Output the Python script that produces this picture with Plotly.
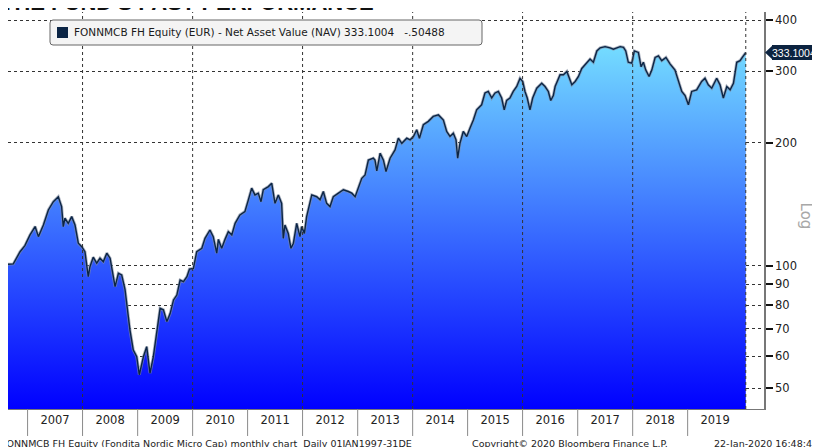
import math
import plotly.graph_objects as go

# ---- data ----
dates = [
    "2006-08-24", "2006-09-28", "2006-11-12", "2006-12-14", "2007-01-17", "2007-02-20",
    "2007-03-14", "2007-04-16", "2007-05-19", "2007-06-21", "2007-07-24", "2007-08-15",
    "2007-08-26", "2007-09-06", "2007-09-28", "2007-10-21", "2007-11-12", "2007-12-04",
    "2007-12-27", "2008-01-17", "2008-02-08", "2008-02-19", "2008-03-12", "2008-04-04",
    "2008-04-26", "2008-05-18", "2008-06-10", "2008-07-02", "2008-08-04", "2008-08-26",
    "2008-09-17", "2008-10-09", "2008-10-31", "2008-11-11", "2008-12-03", "2008-12-26",
    "2009-01-12", "2009-02-08", "2009-03-02", "2009-03-24", "2009-04-15", "2009-05-08",
    "2009-05-30", "2009-06-21", "2009-07-14", "2009-08-05", "2009-08-27", "2009-09-18",
    "2009-10-10", "2009-11-01", "2009-11-24", "2009-12-11", "2010-01-06", "2010-01-28",
    "2010-03-03", "2010-03-24", "2010-04-26", "2010-05-18", "2010-06-10", "2010-06-21",
    "2010-07-13", "2010-08-04", "2010-08-26", "2010-09-18", "2010-10-10", "2010-11-11",
    "2010-12-14", "2011-01-06", "2011-01-28", "2011-02-19", "2011-03-13", "2011-03-31",
    "2011-04-15", "2011-05-19", "2011-06-10", "2011-07-02", "2011-07-24", "2011-08-15",
    "2011-08-26", "2011-09-06", "2011-09-28", "2011-10-16", "2011-11-01", "2011-11-23",
    "2011-12-15", "2011-12-26", "2012-01-13", "2012-01-28", "2012-03-02", "2012-04-04",
    "2012-04-26", "2012-05-18", "2012-06-09", "2012-07-01", "2012-07-23", "2012-08-26",
    "2012-09-28", "2012-10-31", "2012-11-23", "2012-12-15", "2013-01-06", "2013-01-28",
    "2013-02-19", "2013-03-13", "2013-04-15", "2013-04-26", "2013-05-08", "2013-05-30",
    "2013-06-21", "2013-07-08", "2013-08-04", "2013-09-06", "2013-09-28", "2013-10-21",
    "2013-11-23", "2013-12-15", "2014-01-06", "2014-01-28", "2014-02-15", "2014-03-13",
    "2014-04-15", "2014-05-18", "2014-06-21", "2014-07-24", "2014-08-15", "2014-09-06",
    "2014-09-28", "2014-10-16", "2014-10-27", "2014-11-11", "2014-12-03", "2014-12-26",
    "2015-01-17", "2015-02-08", "2015-03-02", "2015-04-04", "2015-04-26", "2015-05-18",
    "2015-06-10", "2015-07-02", "2015-07-24", "2015-08-15", "2015-09-01", "2015-09-17",
    "2015-10-09", "2015-10-31", "2015-11-23", "2015-12-15", "2016-01-02", "2016-01-17",
    "2016-02-01", "2016-02-19", "2016-03-08", "2016-04-04", "2016-05-07", "2016-05-29",
    "2016-06-20", "2016-07-06", "2016-07-23", "2016-08-04", "2016-09-06", "2016-09-28",
    "2016-10-21", "2016-11-01", "2016-11-23", "2016-12-15", "2017-01-06", "2017-01-28",
    "2017-03-02", "2017-03-24", "2017-04-15", "2017-05-08", "2017-05-30", "2017-07-02",
    "2017-08-04", "2017-08-26", "2017-09-18", "2017-10-10", "2017-11-01", "2017-11-16",
    "2017-12-03", "2017-12-26", "2018-01-12", "2018-02-08", "2018-02-26", "2018-03-13",
    "2018-03-29", "2018-04-20", "2018-05-08", "2018-05-30", "2018-06-21", "2018-07-13",
    "2018-08-10", "2018-09-06", "2018-10-09", "2018-10-31", "2018-11-23", "2018-12-15",
    "2019-01-06", "2019-01-28", "2019-03-02", "2019-04-04", "2019-04-26", "2019-05-18",
    "2019-06-10", "2019-07-13", "2019-08-04", "2019-08-26", "2019-09-18", "2019-10-10",
    "2019-11-01", "2019-11-23", "2019-12-15", "2019-12-30", "2020-01-22",
]
nav = [
    100.8, 101.0, 108.2, 112.0, 119.0, 124.7,
    117.8, 125.8, 137.0, 143.5, 147.6, 139.6,
    124.7, 130.7, 127.0, 131.9, 125.8, 113.5,
    111.3, 108.2, 94.0, 99.4, 104.9, 101.4,
    104.3, 102.3, 107.3, 104.3, 88.8, 95.8,
    94.9, 87.5, 75.0, 69.5, 62.1, 59.8,
    54.0, 59.8, 63.3, 54.5, 59.8, 68.3,
    78.6, 77.9, 72.9, 76.4, 82.4, 84.7,
    92.2, 91.4, 94.0, 98.1, 98.5, 108.2,
    110.3, 116.7, 122.3, 117.8, 107.3, 116.0,
    110.3, 116.0, 121.2, 119.0, 127.0, 133.2,
    135.7, 145.0, 154.9, 149.1, 150.6, 143.5,
    153.5, 156.3, 159.3, 142.2, 149.1, 142.2,
    116.7, 125.8, 120.0, 110.3, 113.5, 127.0,
    117.8, 124.7, 120.0, 131.9, 149.1, 147.6,
    145.0, 152.0, 142.2, 139.6, 147.6, 150.6,
    153.5, 152.0, 150.6, 147.6, 154.9, 163.8,
    166.9, 181.5, 183.5, 181.5, 170.7, 188.7,
    181.5, 170.2, 183.5, 192.3, 205.4, 199.6,
    205.4, 203.5, 207.4, 215.4, 205.4, 221.6,
    225.9, 232.3, 234.3, 227.6, 213.4, 207.4,
    211.3, 203.5, 183.5, 199.6, 213.4, 207.4,
    217.6, 227.6, 241.1, 248.1, 265.2, 267.5,
    257.8, 265.2, 267.5, 257.8, 241.1, 254.2,
    257.8, 267.5, 275.1, 288.2, 283.0, 267.5,
    257.8, 241.1, 257.8, 272.5, 280.2, 275.1,
    267.5, 254.2, 261.4, 275.1, 293.9, 293.9,
    299.4, 291.1, 277.7, 283.0, 291.1, 304.6,
    315.4, 321.2, 315.4, 336.3, 342.2, 344.6,
    342.2, 339.5, 342.2, 344.6, 343.0, 336.3,
    315.4, 313.9, 336.3, 333.4, 307.5, 315.4,
    301.8, 291.1, 301.8, 324.1, 327.0, 318.3,
    324.1, 312.7, 301.8, 285.7, 267.5, 261.4,
    248.1, 267.5, 270.0, 283.0, 288.2, 277.7,
    272.5, 288.2, 277.7, 257.8, 275.1, 270.0,
    280.2, 315.4, 318.2, 324.1, 333.1004,
]
year_ticks = [str(y) for y in range(2007, 2020)]
grid_years = ["2008", "2010", "2012", "2014", "2016", "2018"]
y_ticks = [50, 60, 70, 80, 90, 100, 200, 300, 400]
last_value = 333.1004
last_change = "-.50488"
ticker = "FONNMCB FH Equity (EUR) - Net Asset Value (NAV)"
title_text = "THE FUND'S PAST PERFORMANCE"

Y_MIN, Y_MAX = 44.5, 419.0
LINE = "#0b2545"
FONT = "DejaVu Sans"

fig = go.Figure()
# gradient area with a soft grey halo along its edge
fig.add_trace(go.Scatter(
    x=dates, y=nav, mode="lines",
    line=dict(color="rgba(130,140,160,0.65)", width=3),
    fill="tozeroy",
    fillgradient=dict(type="vertical",
                      colorscale=[[0, "#0000ff"], [1, "#74dcff"]],
                      start=Y_MIN, stop=345),
    showlegend=False, hoverinfo="skip",
))
# dark price line
fig.add_trace(go.Scatter(
    x=dates, y=nav, mode="lines",
    line=dict(color=LINE, width=1.4),
    showlegend=False, hoverinfo="skip",
))

shapes = []
# vertical dotted grid every two years + current-date line
for gy in grid_years + [dates[-1]]:
    shapes.append(dict(type="line", xref="x", yref="paper", x0=gy, x1=gy, y0=0, y1=1,
                       line=dict(color="#333333", width=1, dash="dot"), layer="above"))
# year separators below the axis
for ty in year_ticks:
    shapes.append(dict(type="line", xref="x", yref="paper", x0=ty + "-01-01", x1=ty + "-01-01",
                       y0=0, y1=-0.068, line=dict(color="#8a8a8a", width=1), layer="above"))

lo, hi = math.log10(Y_MIN), math.log10(Y_MAX)
py = (math.log10(last_value) - lo) / (hi - lo)
# legend box (rounded corners)
shapes.append(dict(type="path", xref="paper", yref="paper", xsizemode="pixel", ysizemode="pixel",
                   xanchor=0, yanchor=1,
                   path="M 45 -8 L 471 -8 Q 474 -8 474 -11 L 474 -30 Q 474 -33 471 -33 "
                        "L 45 -33 Q 42 -33 42 -30 L 42 -11 Q 42 -8 45 -8 Z",
                   fillcolor="#f4f4f4", line=dict(color="#666666", width=1), layer="above"))
shapes.append(dict(type="rect", xref="paper", yref="paper", xsizemode="pixel", ysizemode="pixel",
                   xanchor=0, yanchor=1, x0=49, x1=60, y0=-15, y1=-26,
                   fillcolor=LINE, line=dict(width=0), layer="above"))
# price tag at right
shapes.append(dict(type="rect", xref="paper", yref="paper", xsizemode="pixel", ysizemode="pixel",
                   xanchor=1, yanchor=py, x0=8, x1=70, y0=-7.5, y1=7.5,
                   fillcolor="#0c2340", line=dict(width=0)))
shapes.append(dict(type="path", xref="paper", yref="paper", xsizemode="pixel", ysizemode="pixel",
                   xanchor=1, yanchor=py, path="M 1 0 L 9 -7.5 L 9 7.5 Z",
                   fillcolor="#0c2340", line=dict(width=0)))

annotations = [
    dict(xref="paper", yref="paper", x=0.084, y=0.9485, xanchor="left", yanchor="middle",
         text=f"{ticker} {last_value:.4f}\u00a0\u00a0\u00a0{last_change}", showarrow=False,
         font=dict(family=FONT, size=10.5, color="#1a1a1a")),
    dict(xref="paper", yref="paper", x=1, y=py, xanchor="left", yanchor="middle", xshift=6,
         text=f"{last_value:.4f}", showarrow=False,
         font=dict(family="Liberation Sans", size=10.5, color="white")),
    dict(xref="paper", yref="paper", x=1.07, y=0.485, text="Log", textangle=90, showarrow=False,
         font=dict(family=FONT, size=15, color="#a8a8a8")),
    dict(xref="paper", yref="paper", x=-0.012, y=0.9885, xanchor="left", yanchor="bottom",
         text=f"<b>{title_text}</b>", showarrow=False,
         font=dict(family="Liberation Sans", size=22, color="#111111")),
    dict(xref="paper", yref="paper", x=-0.012, y=-0.069, xanchor="left", yanchor="top",
         text="FONNMCB FH Equity (Fondita Nordic Micro Cap) monthly chart\u00a0\u00a0Daily 01JAN1997-31DE",
         showarrow=False, font=dict(family=FONT, size=9.5, color="#222222")),
    dict(xref="paper", yref="paper", x=0.611, y=-0.069, xanchor="left", yanchor="top",
         text="Copyright\u00a9 2020 Bloomberg Finance L.P.", showarrow=False,
         font=dict(family=FONT, size=9.5, color="#222222")),
    dict(xref="paper", yref="paper", x=1.074, y=-0.069, xanchor="right", yanchor="top",
         text="22-Jan-2020 16:48:47", showarrow=False,
         font=dict(family=FONT, size=9.5, color="#222222")),
]

fig.update_layout(
    width=812, height=439,
    margin=dict(l=0, r=56, t=4, b=38),
    paper_bgcolor="white", plot_bgcolor="white",
    shapes=shapes, annotations=annotations,
    xaxis=dict(type="date", range=["2006-08-24", "2020-05-22"],
               showgrid=False, zeroline=False, ticks="",
               tick0="2007-01-01", dtick="M12", tickformat="%Y", ticklabelmode="period",
               tickfont=dict(family=FONT, size=11.5, color="#222222"),
               showline=True, linecolor="#777777", linewidth=1),
    yaxis=dict(type="log", side="right", range=[lo, hi],
               tickvals=y_ticks, ticktext=[str(v) for v in y_ticks],
               ticks="outside", ticklen=7, tickwidth=1.5, tickcolor="#111111",
               showgrid=True, gridcolor="#333333", griddash="dot", gridwidth=1,
               layer="above traces", zeroline=False,
               showline=True, linecolor="#777777", linewidth=1.5,
               tickfont=dict(family=FONT, size=11.5, color="#222222")),
)

fig.write_html("out.html")
